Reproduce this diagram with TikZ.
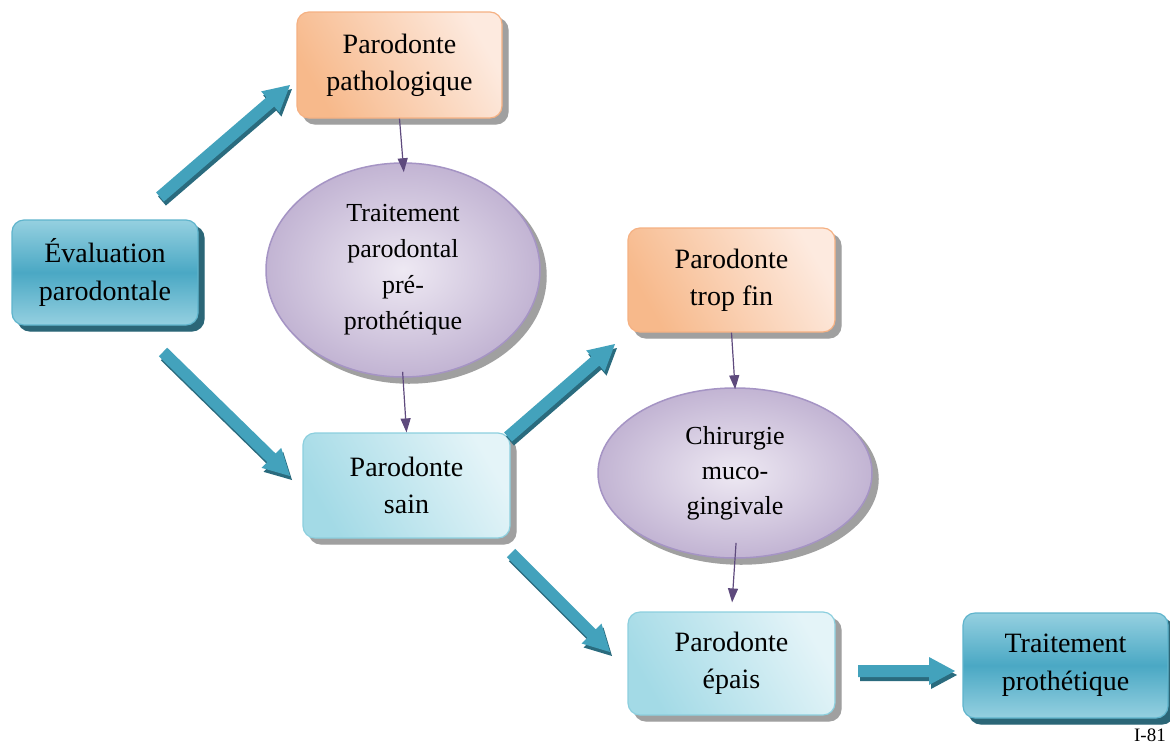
\documentclass[tikz,border=0pt]{standalone}
\usepackage{fontspec}
\setmainfont{Liberation Serif}
\usetikzlibrary{calc,arrows.meta,shapes.geometric}
\definecolor{bluemid}{HTML}{4AA8C4}
\definecolor{blueedge}{HTML}{95D0E0}
\definecolor{blueline}{HTML}{5FB4CC}
\definecolor{blueshadow}{HTML}{2B6677}
\definecolor{orA}{HTML}{F7B98B}
\definecolor{orB}{HTML}{FDEADF}
\definecolor{orline}{HTML}{F5B183}
\definecolor{ltA}{HTML}{A3DAE6}
\definecolor{ltB}{HTML}{E4F4F8}
\definecolor{ltline}{HTML}{8CCFDE}
\definecolor{puIn}{HTML}{EEE9F3}
\definecolor{puOut}{HTML}{C2B4D3}
\definecolor{puline}{HTML}{A594C4}
\definecolor{greysh}{HTML}{A0A0A0}
\definecolor{thinarr}{HTML}{5E4A7D}
\definecolor{arrmainc}{HTML}{43A2BC}
\definecolor{arrdarkc}{HTML}{2A6B7E}
\tikzset{
  boxbase/.style={rounded corners=12pt, align=center, inner sep=0pt, text=black},
  bluebox/.style={boxbase, draw=blueline, line width=1.2pt,
    top color=blueedge, bottom color=blueedge, middle color=bluemid,
    font=\fontsize{28}{38}\selectfont,
    preaction={fill=blueshadow, draw=blueshadow, transform canvas={shift={(6pt,-6pt)}}}},
  orbox/.style={boxbase, draw=orline, line width=1.2pt,
    left color=orA, right color=orB, shading angle=120,
    font=\fontsize{28}{37}\selectfont,
    preaction={fill=greysh, draw=greysh, transform canvas={shift={(6pt,-6pt)}}}},
  ltbox/.style={boxbase, draw=ltline, line width=1.2pt,
    left color=ltA, right color=ltB, shading angle=120,
    font=\fontsize{28}{37}\selectfont,
    preaction={fill=greysh, draw=greysh, transform canvas={shift={(6pt,-6pt)}}}},
  puell/.style={ellipse, draw=puline, line width=1.5pt, inner sep=0pt,
    inner color=puIn, outer color=puOut, align=center, text=black,
    preaction={fill=greysh, draw=greysh, transform canvas={shift={(6pt,-6pt)}}}},
  thinarrow/.style={draw=thinarr, line width=1.2pt,
    -{Triangle[length=14pt,width=10pt]}},
  arrmain/.style={fill=arrmainc},
  arrdark/.style={fill=arrdarkc}
}
\newcommand\arrpoly[3]{%
  \fill[#1] ($(#2)!6pt!90:(#3)$) -- ($(bp)!6pt!90:(#3)$) -- ($(bp)!14pt!90:(#3)$)
    -- (#3) -- ($(bp)!14pt!-90:(#3)$) -- ($(bp)!6pt!-90:(#3)$)
    -- ($(#2)!6pt!-90:(#3)$) -- cycle;}
\newcommand\blockarr[2]{%
  \coordinate (bp) at ($(#2)!26pt!(#1)$);
  \arrpoly{arrdark,transform canvas={shift={(2pt,-4pt)}}}{#1}{#2}%
  \arrpoly{arrmain}{#1}{#2}}
\begin{document}
\begin{tikzpicture}[x=1pt,y=-1pt]
\useasboundingbox (0,0) rectangle (1170,745);
% nodes
\node[bluebox, minimum width=186pt, minimum height=105pt] (eval) at (105,272.5) {Évaluation\\parodontale};
\node[orbox, minimum width=205pt, minimum height=106pt] (path) at (399.5,65) {Parodonte\\pathologique};
\node[puell, minimum width=274pt, minimum height=214pt, font=\fontsize{26}{36}\selectfont] (trait) at (403,270) {Traitement\\parodontal\\pré-\\prothétique};
\node[orbox, minimum width=207pt, minimum height=104pt] (fin) at (731.5,280) {Parodonte\\trop fin};
\node[ltbox, minimum width=207pt, minimum height=105pt] (sain) at (406.5,485.5) {Parodonte\\sain};
\node[puell, minimum width=274pt, minimum height=170pt, font=\fontsize{26}{35}\selectfont] (chir) at (735,473) {Chirurgie\\muco-\\gingivale};
\node[ltbox, minimum width=207pt, minimum height=103pt] (epais) at (731.5,663.5) {Parodonte\\épais};
\node[bluebox, minimum width=205pt, minimum height=105pt] (proth) at (1065.5,665.5) {Traitement\\prothétique};
\node[font=\fontsize{19}{21}\selectfont, anchor=east, inner sep=0pt] (ref) at (1166,735) {I-81};
% thin arrows
\draw[thinarrow, shorten >=-10pt] (path.south) -- (trait.north);
\draw[thinarrow, shorten <=-6pt] (trait.south) -- (sain.north);
\draw[thinarrow, shorten >=-2pt] (fin.south) -- (chir.north);
\draw[thinarrow, shorten <=-16pt, shorten >=9pt] (chir.south) -- (epais.north);
% block arrow end points
\coordinate (a1s) at (160,197); \coordinate (a1e) at (290,85);
\coordinate (a2s) at (163,352); \coordinate (a2e) at (290,476);
\coordinate (a3s) at (508,437); \coordinate (a3e) at (615,344);
\coordinate (a4s) at (511,553); \coordinate (a4e) at (610,652);
\coordinate (a5s) at (858,671); \coordinate (a5e) at (955,671);
\blockarr{a1s}{a1e}
\blockarr{a2s}{a2e}
\blockarr{a3s}{a3e}
\blockarr{a4s}{a4e}
\blockarr{a5s}{a5e}
\end{tikzpicture}
\end{document}
